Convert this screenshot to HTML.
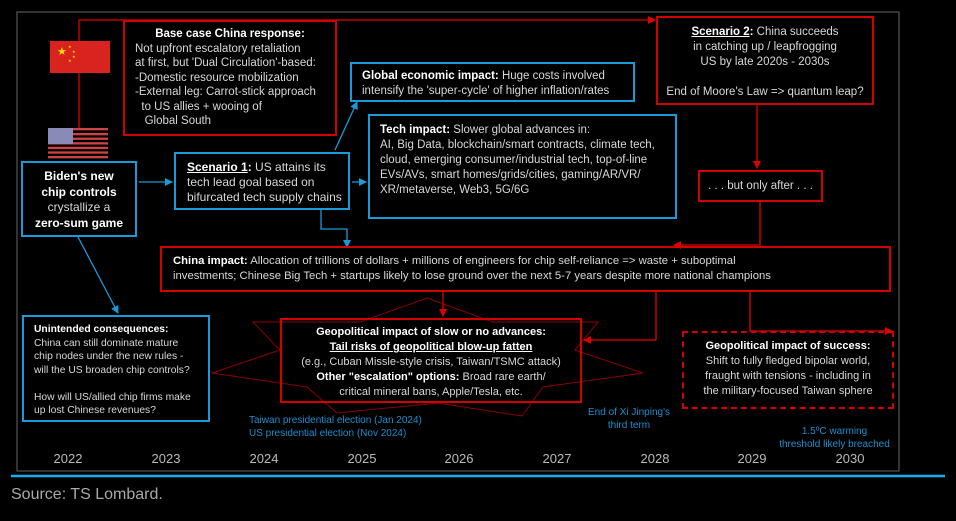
<!DOCTYPE html>
<html><head><meta charset="utf-8"><style>
body{margin:0;width:956px;height:521px;background:#000;position:relative;overflow:hidden;font-family:"Liberation Sans",sans-serif;color:#d8d8d8}
.b{position:absolute;box-sizing:border-box;font-size:11.5px;line-height:14.5px}
.r{border:2px solid #d40000}
.bl{border:2px solid #1a9ad6}
.c{text-align:center}
b{color:#fff}
.t{position:absolute;font-size:10px;line-height:13px;color:#1a8fd0;font-family:"Liberation Sans Narrow","Liberation Sans",sans-serif}
.y{position:absolute;top:451px;font-size:13px;color:#bbb;width:60px;text-align:center}
</style></head><body>
<svg width="956" height="521" style="position:absolute;left:0;top:0">
<defs>
<marker id="ar" markerWidth="8" markerHeight="8" refX="7" refY="4" orient="auto" markerUnits="userSpaceOnUse"><path d="M0,0L8,4L0,8z" fill="#e00000"/></marker>
<marker id="ab" markerWidth="8" markerHeight="8" refX="7" refY="4" orient="auto" markerUnits="userSpaceOnUse"><path d="M0,0L8,4L0,8z" fill="#1a9ad6"/></marker>
</defs>
<rect x="17" y="12" width="882" height="459" fill="none" stroke="#555" stroke-width="1.2"/>
<line x1="11" y1="476" x2="945" y2="476" stroke="#12b0ef" stroke-width="2.5"/>
<polyline points="79,128 79,20 655,20" fill="none" stroke="#e00000" stroke-width="1.3" marker-end="url(#ar)"/>
<polyline points="757,104 757,168" fill="none" stroke="#e00000" stroke-width="1.3" marker-end="url(#ar)"/>
<polyline points="760,201 760,245 674,245" fill="none" stroke="#e00000" stroke-width="1.3" marker-end="url(#ar)"/>
<polyline points="443,291 443,316" fill="none" stroke="#e00000" stroke-width="1.3" marker-end="url(#ar)"/>
<polyline points="656,291 656,340 584,340" fill="none" stroke="#e00000" stroke-width="1.3" marker-end="url(#ar)"/>
<polyline points="750,291 750,331 892,331" fill="none" stroke="#e00000" stroke-width="1.3" marker-end="url(#ar)"/>
<polygon points="427,298 493,322 598,322 575,350 643,373 543,387 522,416 438,403 337,413 307,387 212,373 280,350 253,322 360,322" fill="none" stroke="#8b0000" stroke-width="1"/>
<line x1="139" y1="182" x2="172" y2="182" stroke="#1a9ad6" stroke-width="1.3" marker-end="url(#ab)"/>
<line x1="335" y1="150" x2="357" y2="102" stroke="#1a9ad6" stroke-width="1.3" marker-end="url(#ab)"/>
<line x1="352" y1="182" x2="366" y2="182" stroke="#1a9ad6" stroke-width="1.3" marker-end="url(#ab)"/>
<polyline points="321,210 321,229 347,229 347,247" fill="none" stroke="#1a9ad6" stroke-width="1.3" marker-end="url(#ab)"/>
<line x1="78" y1="237" x2="118" y2="313" stroke="#1a9ad6" stroke-width="1.3" marker-end="url(#ab)"/>
<rect x="50" y="41" width="60" height="32" fill="#d8231f"/>
<text x="57" y="55" font-size="11" fill="#ffde00">★</text>
<text x="68" y="48" font-size="4" fill="#ffde00">★</text><text x="72" y="53" font-size="4" fill="#ffde00">★</text><text x="72" y="58" font-size="4" fill="#ffde00">★</text><text x="68" y="62" font-size="4" fill="#ffde00">★</text>
<g fill="#c44">
<rect x="48" y="128" width="60" height="2.3"/><rect x="48" y="133" width="60" height="2.3"/><rect x="48" y="137.6" width="60" height="2.3"/><rect x="48" y="142.2" width="60" height="2.3"/><rect x="48" y="146.8" width="60" height="2.3"/><rect x="48" y="151.4" width="60" height="2.3"/><rect x="48" y="156" width="60" height="2.3"/></g>
<rect x="48" y="128" width="25" height="16" fill="#8a8ab8"/>
</svg>
<div class="b r c" style="left:123px;top:20px;width:214px;height:116px;padding-top:5px;text-align:left;padding-left:10px"><div style="text-align:center;padding-right:10px"><b>Base case China response:</b></div>Not upfront escalatory retaliation<br>at first, but 'Dual Circulation'-based:<br>-Domestic resource mobilization<br>-External leg: Carrot-stick approach<br>&nbsp;&nbsp;to US allies + wooing of<br>&nbsp;&nbsp;&nbsp;Global South</div>
<div class="b bl c" style="left:21px;top:161px;width:116px;height:76px;padding-top:6px;font-size:12px;line-height:15.5px"><b>Biden's new<br>chip controls</b><br>crystallize a<br><b>zero-sum game</b></div>
<div class="b bl" style="left:174px;top:152px;width:176px;height:58px;padding:6px 0 0 11px;font-size:12px;line-height:15px"><b style="text-decoration:underline">Scenario 1</b><b>:</b> US attains its<br>tech lead goal based on<br>bifurcated tech supply chains</div>
<div class="b bl" style="left:350px;top:62px;width:285px;height:40px;padding:5px 0 0 10px"><b>Global economic impact:</b> Huge costs involved<br>intensify the 'super-cycle' of higher inflation/rates</div>
<div class="b bl" style="left:368px;top:114px;width:309px;height:105px;padding:7px 0 0 10px;line-height:15px"><b>Tech impact:</b> Slower global advances in:<br>AI, Big Data, blockchain/smart contracts, climate tech,<br>cloud, emerging consumer/industrial tech, top-of-line<br>EVs/AVs, smart homes/grids/cities, gaming/AR/VR/<br>XR/metaverse, Web3, 5G/6G</div>
<div class="b r c" style="left:656px;top:16px;width:218px;height:89px;padding-top:7px;line-height:15px"><b style="text-decoration:underline">Scenario 2</b><b>:</b> China succeeds<br>in catching up / leapfrogging<br>US by late 2020s - 2030s<br><br>End of Moore's Law =&gt; quantum leap?</div>
<div class="b r c" style="left:698px;top:170px;width:125px;height:32px;padding-top:7px">. . . but only after . . .</div>
<div class="b r" style="left:160px;top:246px;width:731px;height:46px;padding:6px 0 0 11px;line-height:15px;font-size:11.3px"><b>China impact:</b> Allocation of trillions of dollars + millions of engineers for chip self-reliance =&gt; waste + suboptimal<br>investments; Chinese Big Tech + startups likely to lose ground over the next 5-7 years despite more national champions</div>
<div class="b r c" style="left:280px;top:318px;width:302px;height:85px;padding-top:5px;font-size:11px;line-height:15px"><b>Geopolitical impact of slow or no advances:</b><br><b style="text-decoration:underline">Tail risks of geopolitical blow-up fatten</b><br>(e.g., Cuban Missle-style crisis, Taiwan/TSMC attack)<br><b>Other "escalation" options:</b> Broad rare earth/<br>critical mineral bans, Apple/Tesla, etc.</div>
<div class="b c" style="left:682px;top:331px;width:212px;height:78px;border:2px dashed #d40000;padding-top:6px;font-size:11px;line-height:15px"><b>Geopolitical impact of success:</b><br>Shift to fully fledged bipolar world,<br>fraught with tensions - including in<br>the military-focused Taiwan sphere</div>
<div class="b bl" style="left:22px;top:315px;width:188px;height:107px;padding:6px 0 0 10px;font-size:10.3px;line-height:13.5px"><b>Unintended consequences:</b><br>China can still dominate mature<br>chip nodes under the new rules -<br>will the US broaden chip controls?<br><br>How will US/allied chip firms make<br>up lost Chinese revenues?</div>
<div class="t" style="left:249px;top:414px">Taiwan presidential election (Jan 2024)<br>US presidential election (Nov 2024)</div>
<div class="t" style="left:580px;top:406px;width:98px;text-align:center">End of Xi Jinping's<br>third term</div>
<div class="t" style="left:772px;top:425px;width:125px;text-align:center">1.5ºC warming<br>threshold likely breached</div>
<div class="y" style="left:38px">2022</div><div class="y" style="left:136px">2023</div><div class="y" style="left:234px">2024</div><div class="y" style="left:332px">2025</div><div class="y" style="left:429px">2026</div><div class="y" style="left:527px">2027</div><div class="y" style="left:625px">2028</div><div class="y" style="left:722px">2029</div><div class="y" style="left:820px">2030</div>
<div style="position:absolute;left:11px;top:486px;font-size:16px;color:#aaa">Source: TS Lombard.</div>
</body></html>
